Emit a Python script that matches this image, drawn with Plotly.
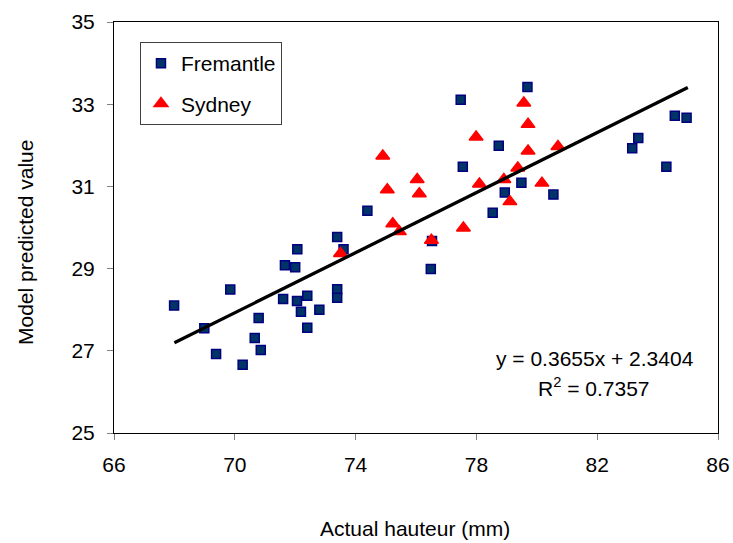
import plotly.graph_objects as go

# Data
fremantle_x = [67.99, 68.99, 69.38, 69.85, 70.26, 70.66, 70.79, 70.86, 71.60, 71.66,
               72.00, 72.07, 72.06, 72.19, 72.40, 72.40, 72.80, 73.39, 73.39, 73.39,
               73.60, 74.39, 76.49, 76.53, 77.48, 77.55, 78.54, 78.74, 78.94, 79.49,
               79.69, 80.55, 83.16, 83.36, 84.29, 84.57, 84.96]
fremantle_y = [28.10, 27.55, 26.92, 28.49, 26.66, 27.31, 27.80, 27.02, 28.26, 29.08,
               29.03, 29.47, 28.21, 27.95, 28.34, 27.56, 28.00, 29.77, 28.50, 28.29,
               29.47, 30.41, 28.99, 29.67, 33.11, 31.48, 30.36, 31.99, 30.85, 31.09,
               33.42, 30.80, 31.93, 32.18, 31.48, 32.72, 32.67]

sydney_x = [73.50, 74.90, 75.05, 75.23, 75.45, 76.04, 76.11, 76.51, 77.57, 77.99,
            78.10, 78.91, 79.11, 79.37, 79.57, 79.71, 79.71, 80.17, 80.70]
sydney_y = [29.37, 31.74, 30.92, 30.09, 29.90, 31.17, 30.82, 29.69, 29.99, 32.20,
            31.06, 31.17, 30.63, 31.45, 33.03, 32.51, 31.86, 31.08, 31.97]

# Linear trendline as printed on the chart
trend_slope = 0.3655
trend_intercept = 2.3404
trend_r2 = 0.7357
trend_x = [68.0, 85.0]
trend_y = [trend_slope * v + trend_intercept for v in trend_x]

x_ticks = [66, 70, 74, 78, 82, 86]
y_ticks = [25, 27, 29, 31, 33, 35]

FONT = "Liberation Sans, Arial, sans-serif"
FS = 21

fig = go.Figure()
fig.add_trace(go.Scatter(
    x=fremantle_x, y=fremantle_y, mode="markers", name="Fremantle",
    legendgroup="f",
    marker=dict(symbol="square", size=9, color="#003366",
                line=dict(color="#000080", width=1.5)),
))
fig.add_trace(go.Scatter(
    x=sydney_x, y=sydney_y, mode="markers", name="Sydney",
    legendgroup="s",
    marker=dict(symbol="triangle-up", size=12, color="#FF0000",
                line=dict(color="#FF0000", width=1.5)),
))
fig.add_trace(go.Scatter(
    x=trend_x, y=trend_y, mode="lines", showlegend=False,
    line=dict(color="black", width=3.3),
))

fig.update_layout(
    width=733, height=543,
    margin=dict(l=114, r=15, t=22, b=110),
    paper_bgcolor="white", plot_bgcolor="white",
    font=dict(family=FONT, size=FS, color="black"),
    showlegend=True,
    legend=dict(
        x=0.043, y=0.951, xanchor="left", yanchor="top",
        bordercolor="#404040", borderwidth=1, bgcolor="white",
        font=dict(family=FONT, size=FS, color="black"),
        tracegroupgap=10, traceorder="grouped",
    ),
)
fig.update_xaxes(
    range=[66, 86], tickvals=x_ticks, ticktext=[str(v) for v in x_ticks],
    showgrid=False, zeroline=False, automargin=False,
    showline=True, linecolor="black", linewidth=1, mirror=True,
    ticks="outside", ticklen=6, tickcolor="#808080", tickwidth=1,
    ticklabelstandoff=7,
    tickfont=dict(family=FONT, size=FS, color="black"),
)
fig.update_yaxes(
    range=[25, 35], tickvals=y_ticks, ticktext=[str(v) for v in y_ticks],
    showgrid=False, zeroline=False, automargin=False,
    showline=True, linecolor="black", linewidth=1, mirror=True,
    ticks="outside", ticklen=6, tickcolor="#808080", tickwidth=1,
    ticklabelstandoff=8,
    tickfont=dict(family=FONT, size=FS, color="black"),
)

fig.add_annotation(
    text="Actual hauteur (mm)", xref="paper", yref="paper",
    x=(414.5 - 114) / 604, y=(433 - 528.5) / 411,
    xanchor="center", yanchor="middle", showarrow=False,
    font=dict(family=FONT, size=FS, color="black"),
)
fig.add_annotation(
    text="Model predicted value", xref="paper", yref="paper",
    x=(25 - 114) / 604, y=(433 - 243) / 411, textangle=-90,
    xanchor="center", yanchor="middle", showarrow=False,
    font=dict(family=FONT, size=FS, color="black"),
)
fig.add_annotation(
    text=f"y = {trend_slope}x + {trend_intercept}", xref="paper", yref="paper",
    x=(594.7 - 114) / 604, y=(433 - 358) / 411,
    xanchor="center", yanchor="middle", showarrow=False,
    font=dict(family=FONT, size=FS, color="black"),
)
fig.add_annotation(
    text=f"R<sup>2</sup> = {trend_r2}", xref="paper", yref="paper",
    x=(594.3 - 114) / 604, y=(433 - 386.7) / 411,
    xanchor="center", yanchor="middle", showarrow=False,
    font=dict(family=FONT, size=FS, color="black"),
)

fig.write_html("out.html", config={"displayModeBar": False},
               post_script="document.body.style.margin='0px';")
